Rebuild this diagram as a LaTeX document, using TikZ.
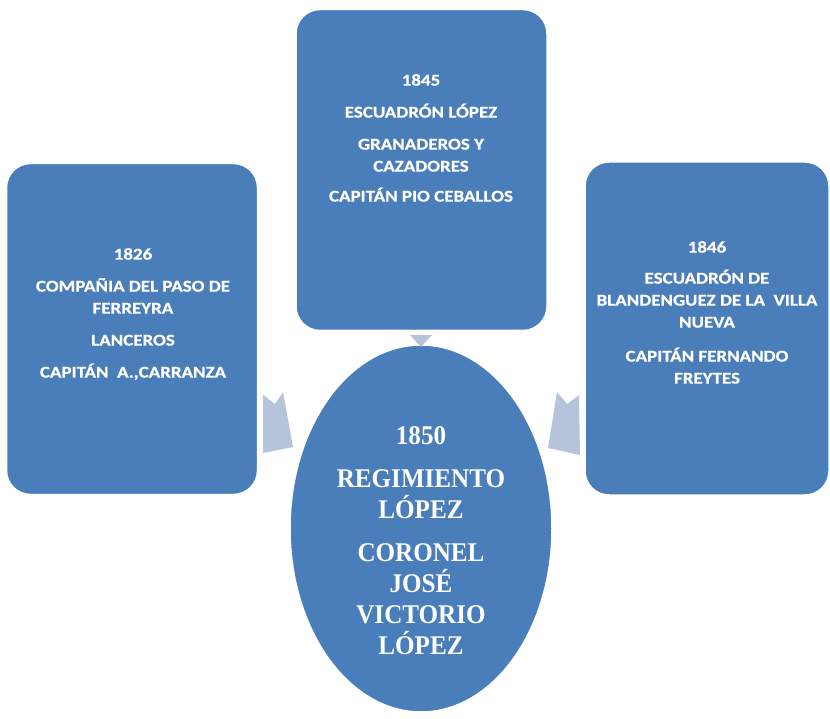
\documentclass[tikz,border=0pt]{standalone}
\usepackage{fontspec}
\usetikzlibrary{shapes.geometric}
\setmainfont{Carlito}[FakeStretch=1.15,FakeBold=0.6]
\newfontfamily\ovalfont{Liberation Serif}[FakeStretch=0.93]
\definecolor{boxblue}{HTML}{4A7EBB}
\definecolor{arrowgray}{HTML}{B5C3DB}

\begin{document}
\begin{tikzpicture}
[x=1pt,y=-1pt,
 unitbox/.style={rectangle,rounded corners=24pt,fill=boxblue,draw=white,line width=1.5pt,inner sep=0pt},
 unittext/.style={text=white,align=center,inner sep=0pt,anchor=north,font=\bfseries\fontsize{16.5}{22}\selectfont},
 ovaltext/.style={text=white,align=center,inner sep=0pt,anchor=north,font=\ovalfont\bfseries\fontsize{27}{31}\selectfont},
 feed/.style={fill=arrowgray,draw=none}]
\useasboundingbox (0,0) rectangle (830,719);
% tres unidades
\node[unitbox,minimum width=251pt,minimum height=331pt] (left) at (132,329) {};
\node[unitbox,minimum width=251pt,minimum height=321pt] (top) at (421.5,170) {};
\node[unitbox,minimum width=244pt,minimum height=333pt] (right) at (707,328.5) {};
\node[ellipse,fill=boxblue,draw=white,line width=1.5pt,minimum width=262pt,minimum height=367pt] (reg) at (421,528.5) {};
% textos
\node[unittext] (tleft) at (133,248) {1826\\[10pt]COMPAÑIA DEL PASO DE\\FERREYRA\\[10pt]LANCEROS\\[10pt]CAPITÁN \ A.,CARRANZA};
\node[unittext] (ttop) at (421,74) {1845\\[10pt]ESCUADRÓN LÓPEZ\\[10pt]GRANADEROS Y\\CAZADORES\\[8pt]CAPITÁN PIO CEBALLOS};
\node[unittext] (tright) at (707,241) {1846\\[9pt]ESCUADRÓN DE\\BLANDENGUEZ DE LA \ VILLA\\NUEVA\\[12pt]CAPITÁN FERNANDO\\FREYTES};
\node[ovaltext] (treg) at (421,426) {1850\\[12pt]REGIMIENTO\\LÓPEZ\\[12pt]CORONEL\\JOSÉ\\VICTORIO\\LÓPEZ};
% flechas
\fill[feed] (263,395) -- (275,404) -- (283,392) -- (293,447) -- (263,453) -- cycle;
\fill[feed] (557,392) -- (567,404) -- (579,395) -- (580,455) -- (548,448) -- cycle;
\fill[feed] (410,335) -- (432,335) -- (421,347) -- cycle;
\end{tikzpicture}
\end{document}
